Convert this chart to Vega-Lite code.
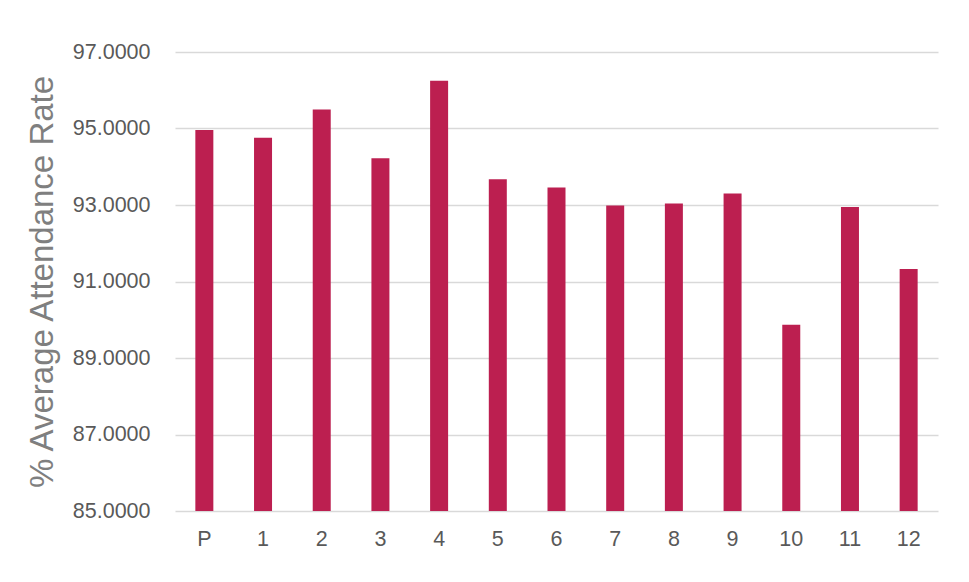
{
  "$schema": "https://vega.github.io/schema/vega-lite/v6.json",
  "autosize": {"type": "none"},
  "width": 763,
  "height": 459,
  "padding": {"left": 175, "top": 52, "right": 31, "bottom": 71},
  "background": "white",
  "data": {
    "values": [
      {"grade": "P", "rate": 94.96},
      {"grade": "1", "rate": 94.76},
      {"grade": "2", "rate": 95.5},
      {"grade": "3", "rate": 94.22},
      {"grade": "4", "rate": 96.25},
      {"grade": "5", "rate": 93.67},
      {"grade": "6", "rate": 93.46},
      {"grade": "7", "rate": 92.99},
      {"grade": "8", "rate": 93.04},
      {"grade": "9", "rate": 93.3},
      {"grade": "10", "rate": 89.87},
      {"grade": "11", "rate": 92.95},
      {"grade": "12", "rate": 91.33}
    ]
  },
  "config": {
    "view": {"stroke": null},
    "font": "Liberation Sans"
  },
  "mark": {"type": "bar", "color": "#BC1F50", "width": 18, "clip": true},
  "encoding": {
    "x": {
      "field": "grade",
      "type": "nominal",
      "sort": null,
      "scale": {"paddingInner": 0.69, "paddingOuter": 0.345},
      "axis": {
        "title": null,
        "labelAngle": 0,
        "labelFontSize": 21.5,
        "labelColor": "#595959",
        "labelPadding": 17,
        "ticks": false,
        "domain": false
      }
    },
    "y": {
      "field": "rate",
      "type": "quantitative",
      "scale": {"domain": [85, 97], "zero": false, "nice": false},
      "axis": {
        "title": "% Average Attendance Rate",
        "titleFontSize": 33,
        "titleFontWeight": "normal",
        "titleColor": "#7F7F7F",
        "titlePadding": 13,
        "values": [85, 87, 89, 91, 93, 95, 97],
        "format": ".4f",
        "labelFontSize": 21.5,
        "labelColor": "#595959",
        "labelPadding": 25,
        "ticks": false,
        "domain": false,
        "grid": true,
        "gridColor": "#D9D9D9",
        "gridWidth": 1.5
      }
    }
  }
}
